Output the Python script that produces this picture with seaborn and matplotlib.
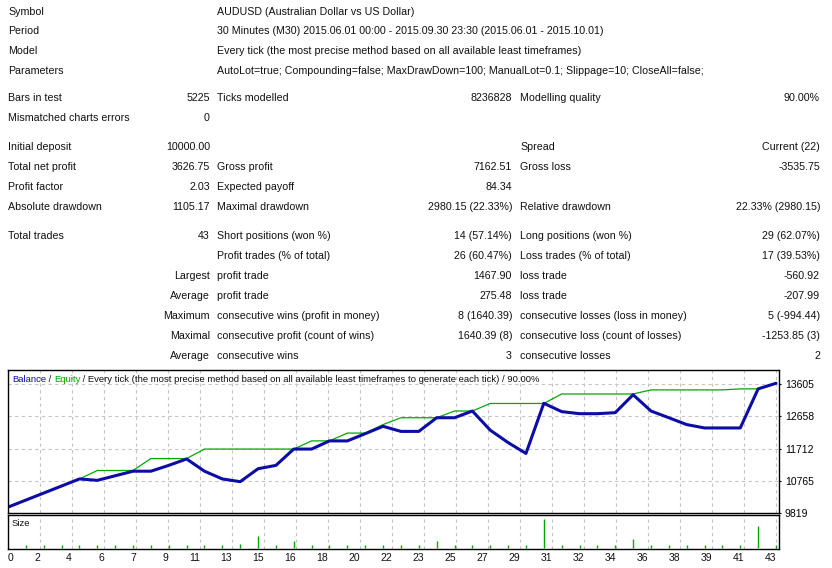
import numpy as np
import matplotlib
matplotlib.use("Agg")
import matplotlib.pyplot as plt
import seaborn as sns

# ---- report table ----
row_y = [12, 31, 51, 71, 98, 118, 147, 167, 187, 207, 236, 256, 276, 296, 316, 336, 356]
col1 = ["Symbol", "Period", "Model", "Parameters", "Bars in test", "Mismatched charts errors",
        "Initial deposit", "Total net profit", "Profit factor", "Absolute drawdown", "Total trades",
        "", "", "", "", "", ""]
col2 = ["", "", "", "", "5225", "0", "10000.00", "3626.75", "2.03", "1105.17", "43",
        "", "Largest", "Average", "Maximum", "Maximal", "Average"]
col3 = ["AUDUSD (Australian Dollar vs US Dollar)",
        "30 Minutes (M30) 2015.06.01 00:00 - 2015.09.30 23:30 (2015.06.01 - 2015.10.01)",
        "Every tick (the most precise method based on all available least timeframes)",
        "AutoLot=true; Compounding=false; MaxDrawDown=100; ManualLot=0.1; Slippage=10; CloseAll=false;",
        "Ticks modelled", "", "", "Gross profit", "Expected payoff", "Maximal drawdown",
        "Short positions (won %)", "Profit trades (% of total)", "profit trade", "profit trade",
        "consecutive wins (profit in money)", "consecutive profit (count of wins)", "consecutive wins"]
col4 = ["", "", "", "", "8236828", "", "", "7162.51", "84.34", "2980.15 (22.33%)", "14 (57.14%)",
        "26 (60.47%)", "1467.90", "275.48", "8 (1640.39)", "1640.39 (8)", "3"]
col5 = ["", "", "", "", "Modelling quality", "", "Spread", "Gross loss", "", "Relative drawdown",
        "Long positions (won %)", "Loss trades (% of total)", "loss trade", "loss trade",
        "consecutive losses (loss in money)", "consecutive loss (count of losses)", "consecutive losses"]
col6 = ["", "", "", "", "90.00%", "", "Current (22)", "-3535.75", "", "22.33% (2980.15)",
        "29 (62.07%)", "17 (39.53%)", "-560.92", "-207.99", "5 (-994.44)", "-1253.85 (3)", "2"]

# ---- chart data (per closed trade) ----
trade_no = list(range(44))
balance = [10000, 10206, 10412, 10618, 10825, 10784, 10918, 11052, 11052, 11222,
           11410, 11052, 10825, 10745, 11124, 11222, 11700, 11700, 11939, 11939,
           12150, 12366, 12217, 12217, 12617, 12617, 12814, 12253, 11890, 11572,
           13040, 12796, 12736, 12736, 12766, 13291, 12814, 12617, 12417, 12318,
           12318, 12318, 13462, 13627]
equity = [10000, 10206, 10412, 10618, 10825, 11073, 11073, 11073, 11422, 11422,
          11422, 11700, 11700, 11700, 11700, 11700, 11700, 11939, 11939, 12168,
          12168, 12417, 12617, 12617, 12617, 12814, 12814, 13035, 13035, 13035,
          13035, 13313, 13313, 13313, 13313, 13313, 13432, 13432, 13432, 13432,
          13432, 13462, 13462, 13627]
lot_size = [0.10] * 43
for t, v in {13: 0.14, 14: 0.40, 16: 0.23, 24: 0.23, 30: 0.97, 35: 0.30, 42: 0.73}.items():
    lot_size[t - 1] = v
y_ticks = [9819, 10765, 11712, 12658, 13605]
x_labels = ["0", "2", "4", "6", "7", "9", "11", "13", "15", "16", "18", "20", "22", "23",
            "25", "27", "29", "31", "32", "34", "36", "38", "39", "41", "43"]

sns.set_style("white")
plt.rcParams["font.family"] = ["Liberation Sans", "DejaVu Sans"]
FS = 7.7      # report table
FS_H = 6.8    # chart header
FS_A = 7.5    # axis labels
W, H = 832, 568
BLUE = "#0c0ca6"
GREEN = "#00a800"
TXT = "#101010"

fig = plt.figure(figsize=(W / 100, H / 100), dpi=100)
fig.patch.set_facecolor("white")


def fx(x):
    return x / W


def fy(y):
    return 1 - y / H


for i, y in enumerate(row_y):
    fig.text(fx(8), fy(y), col1[i], ha="left", va="center", fontsize=FS, color=TXT)
    fig.text(fx(210), fy(y), col2[i], ha="right", va="center", fontsize=FS, color=TXT)
    fig.text(fx(217), fy(y), col3[i], ha="left", va="center", fontsize=FS, color=TXT)
    fig.text(fx(512), fy(y), col4[i], ha="right", va="center", fontsize=FS, color=TXT)
    fig.text(fx(520), fy(y), col5[i], ha="left", va="center", fontsize=FS, color=TXT)
    fig.text(fx(820), fy(y), col6[i], ha="right", va="center", fontsize=FS, color=TXT)

# ---- axes ----
left, right = 8, 779.3
ax = fig.add_axes([fx(left), fy(513.3), (right - left) / W, (513.3 - 370) / H])
ax_s = fig.add_axes([fx(left), fy(549.3), (right - left) / W, (549.3 - 515.3) / H], sharex=ax)

grid_x = np.arange(25) * 43 / 24
x_max = 43 * (right - left) / 768

sns.lineplot(x=trade_no, y=equity, ax=ax, color=GREEN, lw=0.9)
sns.lineplot(x=trade_no, y=balance, ax=ax, color=BLUE, lw=2.2)
ax.set_xlim(0, x_max)
ax.set_ylim(9819, 14015)

ax_s.vlines(trade_no[1:], 0, lot_size, color=GREEN, lw=1.0)
ax_s.set_ylim(-0.04, 1.10)

for a in (ax, ax_s):
    a.set_facecolor("white")
    for sp in a.spines.values():
        sp.set_color("black")
        sp.set_linewidth(1.0)
    a.set_xticks(grid_x)
    a.grid(True, axis="x", ls=(0, (3, 3)), color="#c4c4c4", lw=0.8)
    a.set_xlabel("")
    a.set_ylabel("")

ax.set_yticks(y_ticks)
ax.grid(True, axis="y", ls=(0, (3, 3)), color="#c4c4c4", lw=0.8)
ax.yaxis.tick_right()
ax.tick_params(axis="y", length=1.5, width=0.8, pad=2.5, labelsize=FS_A, colors="black")
ax.tick_params(axis="x", length=0, labelbottom=False)
ax.set_yticklabels([str(v) for v in y_ticks])

ax_s.set_yticks([])
ax_s.set_xticklabels(x_labels)
ax_s.tick_params(axis="x", length=0, pad=2.5, labelsize=FS_A, colors="black")
for k, lbl in enumerate(ax_s.get_xticklabels()):
    lbl.set_ha("left" if k == 0 else "right")
    lbl.set_color(TXT)

# header line with coloured words
hy = fy(379)
t1 = fig.text(fx(12), hy, "Balance", color=BLUE, fontsize=FS_H, va="center", ha="left")
t2 = plt.annotate(" / ", xy=(1, 0), xycoords=t1, va="bottom", ha="left", fontsize=FS_H, color=TXT,
                  annotation_clip=False)
t3 = plt.annotate("Equity", xy=(1, 0), xycoords=t2, va="bottom", ha="left", fontsize=FS_H, color=GREEN,
                  annotation_clip=False)
plt.annotate(" / Every tick (the most precise method based on all available least timeframes "
             "to generate each tick) / 90.00%", xy=(1, 0), xycoords=t3, va="bottom", ha="left",
             fontsize=FS_H, color=TXT, annotation_clip=False)

fig.text(fx(12), fy(524), "Size", fontsize=FS_H, color=TXT, va="center", ha="left")

fig.savefig("out.png", dpi=100)
